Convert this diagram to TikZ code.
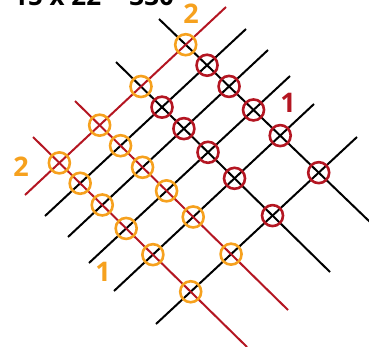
\documentclass[tikz,border=0pt]{standalone}
\usepackage{fontspec}
\setmainfont{Open Sans}
\usetikzlibrary{intersections}
\definecolor{jred}{RGB}{180,22,34}
\definecolor{jorange}{RGB}{246,161,30}
\begin{document}
\begin{tikzpicture}[x=1pt,y=-1pt,
  ln/.style={line width=2pt},
  blackln/.style={ln,black},
  redln/.style={ln,jred},
  ringbase/.style={circle,line width=2.6pt,minimum size=21pt,inner sep=0pt},
  ocirc/.style={ringbase,draw=jorange},
  rcirc/.style={ringbase,draw=jred},
  lbl/.style={inner sep=0pt,font=\fontsize{27}{27}\selectfont\bfseries}]
\useasboundingbox (0,0) rectangle (369,346);
% title (partly cut off at the top)
\node[anchor=base west,inner sep=0pt,font=\fontsize{26}{26}\selectfont\bfseries] (title) at (13,5) {15 x 22 = 330};
% end points
\coordinate (R0s) at (226,7);   \coordinate (R0e) at (25,195);
\coordinate (B1s) at (246,29);  \coordinate (B1e) at (45,216);
\coordinate (B2s) at (268,50);  \coordinate (B2e) at (68,237);
\coordinate (B3s) at (290,76);  \coordinate (B3e) at (89,263);
\coordinate (B4s) at (314,104); \coordinate (B4e) at (114,291);
\coordinate (B5s) at (357,137); \coordinate (B5e) at (156,324);
\coordinate (K1s) at (159,19);  \coordinate (K1e) at (370,222);
\coordinate (K2s) at (116,62);  \coordinate (K2e) at (330,272);
\coordinate (Q1s) at (75,101);  \coordinate (Q1e) at (288,310);
\coordinate (Q2s) at (33,137);  \coordinate (Q2e) at (247,347);
% lines
\draw[blackln,name path=B1] (B1s) -- (B1e);
\draw[blackln,name path=B2] (B2s) -- (B2e);
\draw[blackln,name path=B3] (B3s) -- (B3e);
\draw[blackln,name path=B4] (B4s) -- (B4e);
\draw[blackln,name path=B5] (B5s) -- (B5e);
\draw[blackln,name path=K1] (K1s) -- (K1e);
\draw[blackln,name path=K2] (K2s) -- (K2e);
\draw[redln,name path=Q1] (Q1s) -- (Q1e);
\draw[redln,name path=Q2] (Q2s) -- (Q2e);
\draw[redln,name path=R0] (R0s) -- (R0e);
% intersections
\foreach \a in {K1,K2,Q1,Q2}{
  \path[name intersections/.expanded={of=R0 and \a, by=R0\a}];
  \node[ocirc] (c-R0\a) at (R0\a) {};
}
\foreach \b in {B1,B2,B3,B4,B5}{
  \foreach \a in {Q1,Q2}{
    \path[name intersections/.expanded={of=\b\space and \a, by=\b\a}];
    \node[ocirc] (c-\b\a) at (\b\a) {};
  }
  \foreach \a in {K1,K2}{
    \path[name intersections/.expanded={of=\b\space and \a, by=\b\a}];
    \node[rcirc] (c-\b\a) at (\b\a) {};
  }
}
% labels
\node[lbl,text=jorange] (l2top) at (191,14) {2};
\node[lbl,text=jorange] (l2left) at (21,167) {2};
\node[lbl,text=jorange] (l1bot) at (103,272) {1};
\node[lbl,text=jred] (l1red) at (288,103) {1};
\end{tikzpicture}
\end{document}
